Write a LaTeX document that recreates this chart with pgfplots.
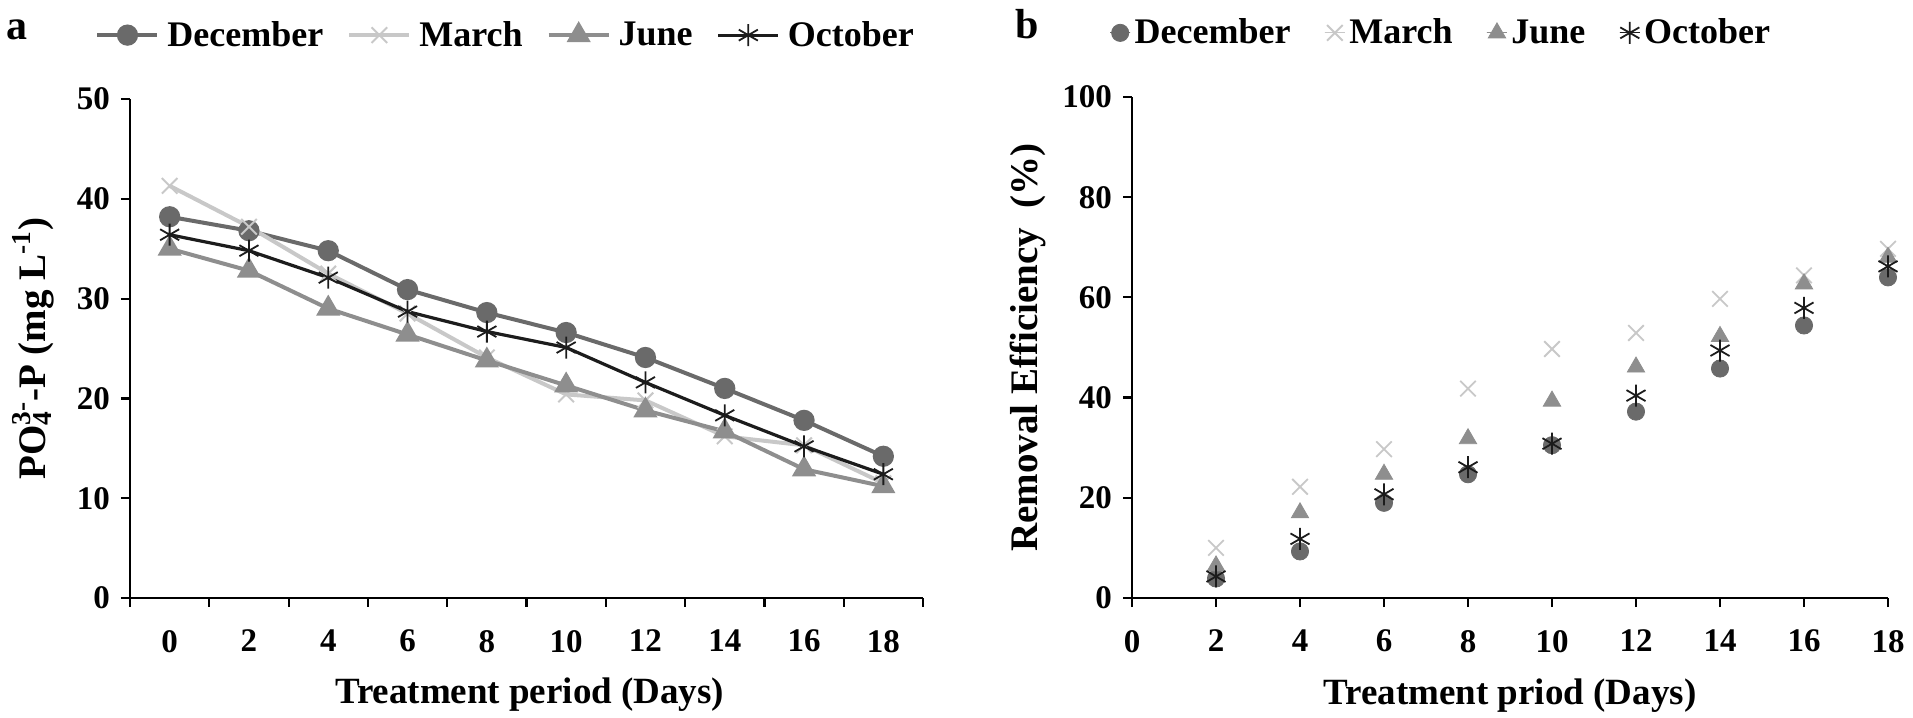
\documentclass[border=0pt]{standalone}
\usepackage{pgfplots}
\pgfplotsset{compat=1.18}
\usepackage{fontspec}
\setmainfont{Liberation Serif}
\definecolor{cdec}{HTML}{6A6A6A}
\definecolor{cmar}{HTML}{C8C8C8}
\definecolor{cjun}{HTML}{8E8E8E}
\definecolor{coct}{HTML}{1C1C1C}
\newcommand{\lblfont}{\bfseries\fontsize{18.5}{19}\selectfont}
\newcommand{\ylblfont}{\bfseries\fontsize{19.5}{20}\selectfont}
\pgfplotsset{
  common/.style={
    scale only axis,
    axis lines*=left,
    axis line style={-, line width=1.2pt, black},
    tick align=outside,
    major tick length=4.5pt,
    minor tick length=4.5pt,
    every tick/.style={black, line width=1.1pt},
    /pgf/number format/assume math mode=true,
    tick label style={font=\bfseries\fontsize{16.5}{16.5}\selectfont},
    yticklabel style={xshift=-2pt},
    xticklabel style={yshift=-8pt},
    legend style={draw=none, fill=none, font=\bfseries\fontsize{18}{18}\selectfont, anchor=center},
    legend columns=4,
    clip=false,
  },
}
\begin{document}
\begin{tikzpicture}
\path[use as bounding box] (0,0) rectangle (956.5pt,359pt);
\node[font=\bfseries\fontsize{21}{21}\selectfont] at (8.5pt,344pt) {a};
\node[font=\bfseries\fontsize{21}{21}\selectfont] at (513.5pt,347pt) {b};
\begin{axis}[common,
  at={(65pt,60pt)}, anchor=south west,
  width=396.5pt, height=249.5pt,
  xmin=-1, xmax=19, ymin=0, ymax=50,
  xtick={0,2,...,18},
  major x tick style={draw=none},
  minor xtick={-1,1,...,19},
  ytick={0,10,...,50},
  xlabel={Treatment period (Days)},
  ylabel={PO\rlap{\textsubscript{4}}\textsuperscript{3-}-P (mg L\textsuperscript{-1})},
  every axis x label/.style={at={(rel axis cs:0.504,-0.194)}, anchor=center, font=\lblfont},
  every axis y label/.style={at={(rel axis cs:-0.122,0.5)}, anchor=center, rotate=90, font=\ylblfont},
  legend style={at={(rel axis cs:0.475,1.128)},
    /tikz/every odd column/.append style={column sep=2pt},
    /tikz/every even column/.append style={column sep=10pt}},
  legend image code/.code={\draw[mark repeat=2,mark phase=2,#1] plot coordinates {(0pt,0pt) (15pt,0pt) (30pt,0pt)};},
]
\addplot[cdec, line width=2pt, mark=*, mark size=4.3pt, mark options={fill=cdec, draw=cdec}] coordinates {
(0,38.2) (2,36.8) (4,34.8) (6,30.9) (8,28.6) (10,26.6) (12,24.1) (14,21.0) (16,17.8) (18,14.2)};
\addlegendentry{December}
\addplot[cmar, line width=2pt, mark=x, mark size=5.5pt, mark options={line width=1pt}] coordinates {
(0,41.3) (2,37.2) (4,32.5) (6,28.5) (8,24.1) (10,20.4) (12,19.8) (14,16.2) (16,15.3) (18,11.5)};
\addlegendentry{March}
\addplot[cjun, line width=2pt, mark=triangle*, mark size=5pt, mark options={fill=cjun, draw=cjun}] coordinates {
(0,35.0) (2,32.8) (4,29.0) (6,26.4) (8,23.8) (10,21.3) (12,18.8) (14,16.7) (16,12.9) (18,11.2)};
\addlegendentry{June}
\addplot[coct, line width=1.6pt, mark=asterisk, mark size=5.5pt, mark options={line width=0.9pt}] coordinates {
(0,36.4) (2,34.8) (4,32.1) (6,28.7) (8,26.7) (10,25.1) (12,21.6) (14,18.3) (16,15.2) (18,12.4)};
\addlegendentry{October}
\end{axis}
\begin{axis}[common,
  at={(566pt,60pt)}, anchor=south west,
  width=378pt, height=250.5pt,
  xmin=0, xmax=18, ymin=0, ymax=100,
  xtick={0,2,...,18},
  ytick={0,20,...,100},
  xlabel={Treatment priod (Days)},
  ylabel={Removal Efficiency\ \ (\%)},
  every axis x label/.style={at={(rel axis cs:0.5,-0.194)}, anchor=center, font=\lblfont},
  every axis y label/.style={at={(rel axis cs:-0.138,0.5)}, anchor=center, rotate=90, font=\ylblfont},
  legend style={at={(rel axis cs:0.41,1.128)},
    /tikz/every odd column/.append style={column sep=0pt},
    /tikz/every even column/.append style={column sep=15pt}},
  legend image code/.code={\path (-5pt,0pt) rectangle (5pt,0pt); \draw[#1] plot coordinates {(0pt,0pt)};},
]
\addplot[only marks, mark=*, mark size=4.3pt, cdec, mark options={fill=cdec, draw=cdec}] coordinates {
(2,3.9) (4,9.3) (6,19.0) (8,24.7) (10,30.5) (12,37.2) (14,45.8) (16,54.4) (18,64.0)};
\addlegendentry{December}
\addplot[only marks, mark=x, mark size=5.5pt, cmar, mark options={line width=0.9pt}] coordinates {
(2,10.0) (4,22.2) (6,29.7) (8,41.8) (10,49.7) (12,52.9) (14,59.7) (16,64.4) (18,69.7)};
\addlegendentry{March}
\addplot[only marks, mark=triangle*, mark size=5pt, cjun, mark options={fill=cjun, draw=cjun}] coordinates {
(2,6.4) (4,17.0) (6,24.7) (8,31.8) (10,39.3) (12,46.1) (14,52.2) (16,62.7) (18,68.0)};
\addlegendentry{June}
\addplot[only marks, mark=asterisk, mark size=5.5pt, coct, mark options={line width=0.9pt}] coordinates {
(2,4.3) (4,11.8) (6,20.7) (8,26.1) (10,30.8) (12,40.4) (14,49.4) (16,57.9) (18,66.2)};
\addlegendentry{October}
\end{axis}
\end{tikzpicture}
\end{document}
